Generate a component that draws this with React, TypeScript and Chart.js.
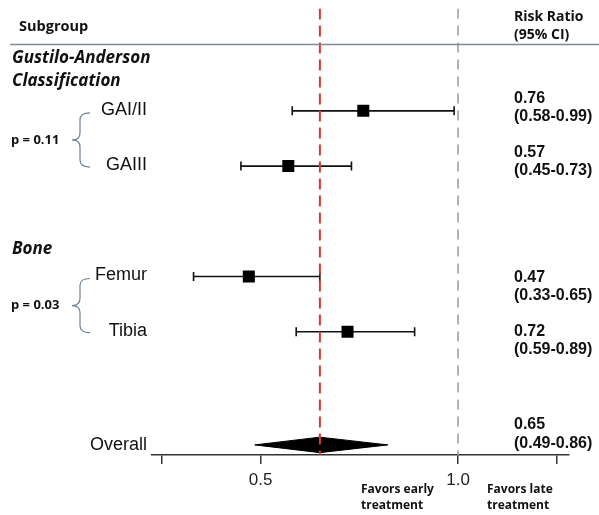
import React, { useEffect, useRef } from 'react';
import { Chart, registerables } from 'chart.js';

Chart.register(...registerables);

// ---- data ----
const subgroupLabels = ['GAI/II', 'GAIII', 'Femur', 'Tibia'];
const subgroupRows = [1, 2, 4, 5];
const riskRatios = [0.76, 0.57, 0.47, 0.72];
const ciLower = [0.58, 0.45, 0.33, 0.59];
const ciUpper = [0.99, 0.73, 0.65, 0.89];
const valueTexts = ['0.76', '0.57', '0.47', '0.72'];
const ciTexts = ['(0.58-0.99)', '(0.45-0.73)', '(0.33-0.65)', '(0.59-0.89)'];

const overallLabel = 'Overall';
const overallRow = 7.05;
const overallRR = 0.65;
const overallDrawnLower = 0.485;
const overallDrawnUpper = 0.822;
const overallTexts = ['0.65', '(0.49-0.86)'];

const groupHeaders = [['Gustilo-Anderson', 'Classification'], ['Bone']];
const pValueTexts = ['p = 0.11', 'p = 0.03'];

const xTicks = [0.25, 0.5, 1.0, 1.25];
const xTickLabels = ['', '0.5', '1.0', ''];
const xMin = 0.224;
const xMax = 1.281;
const yMin = -0.854;
const yMax = 7.233;
const pooledEffect = 0.65;
const nullEffect = 1.0;

const SANS = '"Open Sans", Lato, sans-serif';
const ARIAL = '"Liberation Sans", Arial, sans-serif';

function drawBrace(ctx: CanvasRenderingContext2D, xR: number, xM: number, xL: number, yTop: number, yBot: number) {
  const yMid = (yTop + yBot) / 2;
  const r = 7;
  ctx.beginPath();
  ctx.moveTo(xR, yTop);
  ctx.quadraticCurveTo(xM, yTop, xM, yTop + r);
  ctx.lineTo(xM, yMid - r);
  ctx.quadraticCurveTo(xM, yMid, xL, yMid);
  ctx.quadraticCurveTo(xM, yMid, xM, yMid + r);
  ctx.lineTo(xM, yBot - r);
  ctx.quadraticCurveTo(xM, yBot, xR, yBot);
  ctx.stroke();
}

const annotationPlugin = {
  id: 'forestText',
  afterDraw(chart: any) {
    const ctx: CanvasRenderingContext2D = chart.ctx;
    const y = chart.scales.y;
    ctx.save();
    ctx.textBaseline = 'middle';
    ctx.fillStyle = '#111';

    // header
    ctx.font = `bold 14.5px ${SANS}`;
    ctx.textAlign = 'left';
    ctx.fillText('Subgroup', 19, 27);
    ctx.font = `bold 14px ${SANS}`;
    ctx.fillText('Risk Ratio', 514, 17);
    ctx.fillText('(95% CI)', 514, 35);

    ctx.strokeStyle = '#7d8b99';
    ctx.lineWidth = 1.3;
    ctx.beginPath();
    ctx.moveTo(10, 44.5);
    ctx.lineTo(599, 44.5);
    ctx.stroke();

    // group headers
    ctx.font = `italic bold 17px ${SANS}`;
    ctx.fillText(groupHeaders[0][0], 12, 58);
    ctx.fillText(groupHeaders[0][1], 12, 81);
    ctx.fillText(groupHeaders[1][0], 12, 249);

    // subgroup labels
    ctx.font = `18px ${ARIAL}`;
    ctx.textAlign = 'right';
    subgroupLabels.forEach((lab, i) => {
      ctx.fillText(lab, 147, y.getPixelForValue(subgroupRows[i]) - 1);
    });
    ctx.fillText(overallLabel, 147, y.getPixelForValue(overallRow));

    // p values and braces
    ctx.textAlign = 'left';
    ctx.font = `bold 13px ${SANS}`;
    const pairs = [[0, 1], [2, 3]];
    pairs.forEach((p, k) => {
      const yTop = y.getPixelForValue(subgroupRows[p[0]]) + 2;
      const yBot = y.getPixelForValue(subgroupRows[p[1]]) + 1;
      ctx.fillText(pValueTexts[k], 11, (yTop + yBot) / 2);
      ctx.strokeStyle = '#6f8095';
      ctx.lineWidth = 1.2;
      drawBrace(ctx, 90, 80, 72, yTop, yBot);
    });

    // right column values
    ctx.font = `bold 16px ${ARIAL}`;
    const valueY = [[99, 117], [153, 171], [278, 296], [332, 350]];
    valueTexts.forEach((t, i) => {
      ctx.fillText(t, 514, valueY[i][0]);
      ctx.fillText(ciTexts[i], 514, valueY[i][1]);
    });
    ctx.fillText(overallTexts[0], 514, 425);
    ctx.fillText(overallTexts[1], 514, 444);

    // favors labels
    ctx.font = `bold 12px ${SANS}`;
    ctx.fillText('Favors early', 361, 490);
    ctx.fillText('treatment', 361, 506);
    ctx.fillText('Favors late', 487, 490);
    ctx.fillText('treatment', 487, 506);

    ctx.restore();
  },
};

export default function App() {
  const canvasRef = useRef<HTMLCanvasElement | null>(null);

  useEffect(() => {
    const canvas = canvasRef.current;
    if (!canvas) return;

    const datasets: any[] = [];

    datasets.push({
      label: 'pooled',
      data: [{ x: pooledEffect, y: yMin }, { x: pooledEffect, y: yMax }],
      showLine: true,
      borderColor: '#e5332a',
      borderWidth: 2,
      borderDash: [11, 6],
      pointRadius: 0,
      order: 0,
    });

    datasets.push({
      label: 'estimates',
      data: riskRatios.map((v, i) => ({ x: v, y: subgroupRows[i] })),
      showLine: false,
      pointStyle: 'rect',
      pointRadius: 8.5,
      backgroundColor: '#000',
      borderColor: '#000',
      borderWidth: 0,
      order: 1,
    });

    riskRatios.forEach((_, i) => {
      datasets.push({
        label: 'ci' + i,
        data: [{ x: ciLower[i], y: subgroupRows[i] }, { x: ciUpper[i], y: subgroupRows[i] }],
        showLine: true,
        borderColor: '#111',
        borderWidth: 1.6,
        pointStyle: 'line',
        pointRotation: 90,
        pointRadius: 4.5,
        pointBorderWidth: 1.6,
        pointBorderColor: '#111',
        order: 2,
      });
    });

    const h = 0.14;
    datasets.push({
      label: 'overall',
      data: [
        { x: overallDrawnLower, y: overallRow },
        { x: overallRR, y: overallRow - h },
        { x: overallDrawnUpper, y: overallRow },
        { x: overallRR, y: overallRow + h },
        { x: overallDrawnLower, y: overallRow },
      ],
      showLine: true,
      fill: 'shape',
      backgroundColor: '#000',
      borderColor: '#000',
      borderWidth: 1,
      pointRadius: 0,
      tension: 0,
      order: 3,
    });

    datasets.push({
      label: 'null',
      data: [{ x: nullEffect, y: yMin }, { x: nullEffect, y: yMax }],
      showLine: true,
      borderColor: '#9a9a9a',
      borderWidth: 1.5,
      borderDash: [10, 7],
      pointRadius: 0,
      order: 4,
    });

    const chart = new Chart(canvas, {
      type: 'scatter',
      data: { datasets },
      plugins: [annotationPlugin],
      options: {
        responsive: false,
        animation: false,
        devicePixelRatio: 1,
        layout: { padding: { left: 151.7, right: 30, top: 0, bottom: 18.6 } },
        plugins: { legend: { display: false }, tooltip: { enabled: false } },
        scales: {
          x: {
            type: 'linear',
            position: 'bottom',
            min: xMin,
            max: xMax,
            afterBuildTicks: (scale: any) => {
              scale.ticks = xTicks.map((v) => ({ value: v }));
            },
            ticks: {
              autoSkip: false,
              maxRotation: 0,
              padding: 6,
              color: '#222',
              font: { family: ARIAL, size: 17 },
              callback: (_v: any, idx: number) => xTickLabels[idx],
            },
            grid: { drawOnChartArea: false, drawTicks: true, tickLength: 9, color: '#333', lineWidth: 1.5 },
            border: { color: '#333', width: 1.5 },
          },
          y: {
            type: 'linear',
            display: false,
            reverse: true,
            min: yMin,
            max: yMax,
          },
        },
      },
    } as any);

    return () => chart.destroy();
  }, []);

  return (
    <div style={{ position: 'fixed', left: 0, top: 0, width: 599, height: 515, background: '#fff' }}>
      <canvas ref={canvasRef} width={599} height={515} style={{ width: 599, height: 515 }} />
    </div>
  );
}
